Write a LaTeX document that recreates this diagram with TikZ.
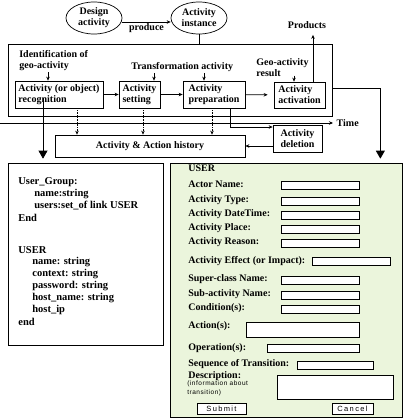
\documentclass[tikz,border=0pt]{standalone}
\usepackage{fontspec}
\setmainfont{Liberation Serif}
\setsansfont{Liberation Sans}
\usetikzlibrary{arrows.meta,shapes.geometric}
\definecolor{formgreen}{RGB}{235,245,220}

\begin{document}
\begin{tikzpicture}[x=1pt,y=-1pt,line width=0.7pt,
		every node/.style={font=\bfseries\fontsize{10}{11}\selectfont},
		box/.style={draw,align=left,inner sep=0pt},
		oval/.style={draw,ellipse,minimum width=56pt,minimum height=32pt,inner sep=0pt,align=center},
		lbl/.style={anchor=west,inner sep=1pt,align=left},
		code/.style={anchor=west,inner sep=0pt,font=\bfseries\fontsize{10.5}{12}\selectfont},
		field/.style={draw,fill=white,anchor=north west,inner sep=0pt,line width=0.6pt},
		button/.style={draw,fill=white,inner sep=0pt,line width=0.6pt,font=\sffamily\fontsize{7.5}{8}\selectfont\addfontfeatures{LetterSpace=18}},
		arr/.style={-{Stealth[length=4pt,width=3.5pt]}},
		bigarr/.style={-{Triangle[length=8pt,width=9pt]},shorten >=4pt}]
		\useasboundingbox (0,0) rectangle (406,420);
		
		% design level
		\node[oval] (design) at (94,18) {Design\\activity};
		\node[oval] (instance) at (199,18) {Activity\\instance};
		\draw[arr] ([yshift=-4pt]design.east) -- node[below=1pt,inner sep=0pt] {produce} ([yshift=-4pt]instance.west);
		\node[inner sep=1pt] (products) at (307,25) {Products};
		
		% activity frame
		\node[draw,minimum width=324pt,minimum height=72pt,inner sep=0pt] (frame) at (170,80) {};
		\draw (instance.south) -- (instance.south |- frame.north);
		
		\node[box,minimum width=88pt,minimum height=27pt] (recognition) at (59,94.5) {Activity (or object)\\recognition};
		\node[box,minimum width=41pt,minimum height=27pt] (setting) at (139.5,94.5) {Activity\\setting};
		\node[box,minimum width=62pt,minimum height=27pt] (preparation) at (214,94.5) {Activity\\preparation};
		\node[box,minimum width=51pt,minimum height=26pt] (activation) at (299.5,95) {Activity\\activation};
		
		\node[lbl] (ident) at (18,61) {Identification of\\geo-activity};
		\node[lbl] (trans) at (130,67) {Transformation activity};
		\node[lbl] (geo) at (255,67.5) {Geo-activity\\result};
		
		\coordinate (rin) at ([xshift=-11pt]recognition.north);
		\coordinate (sin) at ([xshift=14.5pt]setting.north);
		\coordinate (pin) at ([xshift=-10pt]preparation.north);
		\coordinate (gin) at ([xshift=-5.5pt]activation.north);
		\coordinate (aout) at ([xshift=13.5pt]activation.north);
		
		\draw[arr] (ident.south -| rin) -- (rin);
		\draw[arr] (trans.south -| sin) -- (sin);
		\draw[arr] (trans.south -| pin) -- (pin);
		\draw[arr] ([yshift=-8pt]gin |- geo.center) -- (gin);
		\draw[arr,shorten >=5pt] (aout) -- (aout |- products.south);
		
		\draw[arr] (recognition) -- (setting);
		\draw[arr] (setting) -- (preparation);
		\draw[arr,shorten >=6pt] (preparation) -- (activation);
		
		% time axis
		\coordinate (t0) at (0,123);
		\node[anchor=west] (time) at (333,123) {Time};
		\draw[arr] (t0) -- (time.west);
		
		% history
		\node[draw,minimum width=190pt,minimum height=22pt,inner sep=0pt] (history) at (150,146) {Activity \& Action history};
		\node[box,minimum width=49pt,minimum height=27pt] (deletion) at (297.5,138.5) {Activity\\deletion};
		
		\draw[arr,densely dotted] ([xshift=18pt]recognition.south) -- ([xshift=18pt]recognition.south |- history.north);
		\draw[arr,densely dotted] ([xshift=3.5pt]setting.south) -- ([xshift=3.5pt]setting.south |- history.north);
		\draw[arr,densely dotted] ([xshift=-2pt]preparation.south) -- ([xshift=-2pt]preparation.south |- history.north);
		\draw[arr] ([xshift=16pt]preparation.south) |- ([yshift=11.5pt]deletion.west);
		\draw[arr] (deletion.west |- history.east) -- (history.east);
		
		% panels
		\node[draw,minimum width=155pt,minimum height=182pt,inner sep=0pt] (usergroup) at (85.5,254) {};
		\node[draw,fill=formgreen,minimum width=232pt,minimum height=254pt,inner sep=0pt] (form) at (286,290) {};
		
		\draw[bigarr] ([xshift=-16pt,yshift=-3pt]recognition.center) -- ([xshift=-16pt]recognition.center |- usergroup.north);
		\draw[bigarr] ([yshift=-8pt]frame.east) -| ([xshift=-22pt]form.north east);
		
		% class definitions
		\node[code] (ug) at (18,182) {User\_Group:};
		\node[code] (ug1) at (34,194) {name:string};
		\node[code] (ug2) at (34,206) {users:set\_of link USER};
		\node[code] (ug3) at (18,218) {End};
		\node[code] (us) at (18,250) {USER};
		\node[code] (us1) at (32,262) {name: string};
		\node[code] (us2) at (32,274) {context: string};
		\node[code] (us3) at (32,286) {password: string};
		\node[code] (us4) at (32,298) {host\_name: string};
		\node[code] (us5) at (32,310) {host\_ip};
		\node[code] (us6) at (18,322) {end};
		
		% form
		\node[lbl] (user) at (187,168) {USER};
		\foreach \y/\txt in {181/Actor Name:,197/Activity Type:,211/Activity DateTime:,225/Activity Place:,239/Activity Reason:,276/Super-class Name:,291/Sub-activity Name:,305/Condition(s):}{
			\node[lbl] (lab\y) at (187,{\y+3.5}) {\txt};
			\node[field,minimum width=78pt,minimum height=7.5pt] (fld\y) at (281,\y) {};
		}
		\node[lbl] (effect) at (187,261) {Activity Effect (or Impact):};
		\node[field,minimum width=78pt,minimum height=8pt] (feffect) at (312,257) {};
		\node[lbl] (action) at (187,326) {Action(s):};
		\node[field,minimum width=113pt,minimum height=15pt] (faction) at (246,322) {};
		\node[lbl] (operation) at (187,348) {Operation(s):};
		\node[field,minimum width=92pt,minimum height=8pt] (foperation) at (267,344) {};
		\node[lbl] (sequence) at (187,364.5) {Sequence of Transition:};
		\node[field,minimum width=76pt,minimum height=7.5pt] (fsequence) at (297,361) {};
		\node[lbl] (descr) at (187,376) {Description:};
		\node[lbl,font=\sffamily\fontsize{6.5}{9.5}\selectfont\addfontfeatures{LetterSpace=8}] (info) at (186,388.5) {(information about\\transition)};
		\node[field,minimum width=116pt,minimum height=24pt] (fdescr) at (277,375) {};
		\node[button,minimum width=49pt,minimum height=11pt] (submit) at (221.5,408.5) {Submit};
		\node[button,minimum width=41pt,minimum height=11pt] (cancel) at (352.5,408.5) {Cancel};
\end{tikzpicture}
\end{document}
